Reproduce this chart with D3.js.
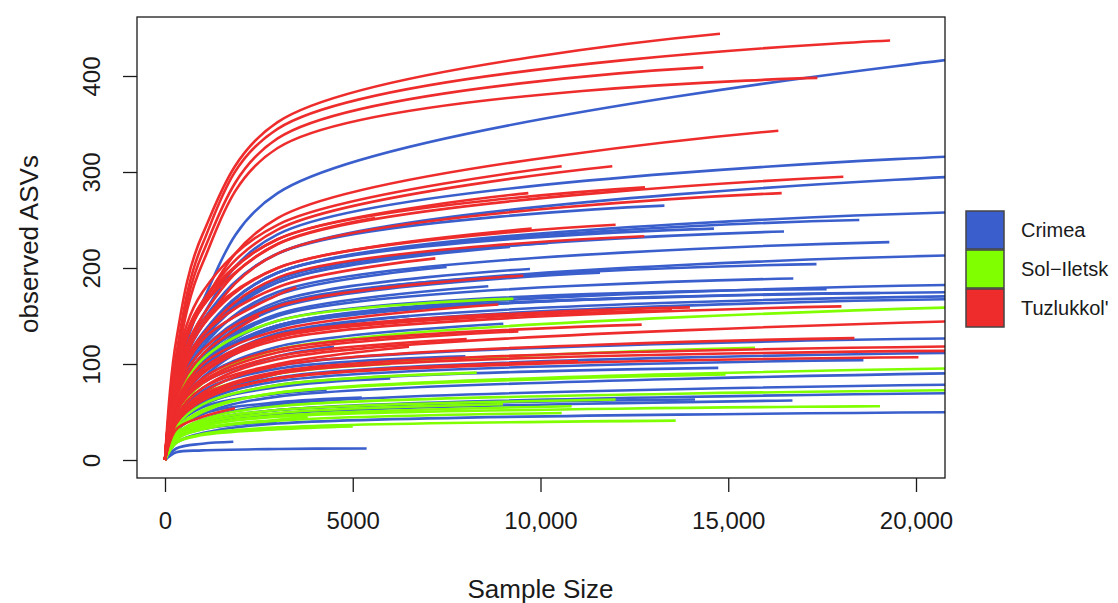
<!DOCTYPE html>
<html>
<head>
<meta charset="utf-8">
<script src="https://cdn.jsdelivr.net/npm/d3@7"></script>
<style>
  body { margin: 0; background: #fff; }
  text { font-family: 'Liberation Sans', Arial, sans-serif; fill: #1a1a1a; }
</style>
</head>
<body>
<svg id="chart" width="1118" height="603"></svg>
<script>
const sites = ['Crimea', 'Sol−Iletsk', "Tuzlukkol'"]
const siteColors = ['#3A5FCD', '#7FFF00', '#EE2C2C']
const xTicks = [0, 5000, 10000, 15000, 20000]
const xTickLabels = ['0', '5000', '10,000', '15,000', '20,000']
const yTicks = [0, 100, 200, 300, 400]

const sampleGrid = [300, 1000, 3000]

// [end sample size, end ASVs, ASVs at 300, 1000, 3000 reads]
const crimea = [
  [22000, 422, 80, 165, 278], [22000, 318, 78, 150, 235], [22000, 297, 75, 140, 215],
  [13300, 265, 80, 145, 215], [18490, 250, 72, 130, 195], [22000, 259, 70, 128, 195],
  [14620, 241, 74, 132, 195], [16485, 238, 70, 125, 188], [19290, 227, 66, 118, 175],
  [22000, 214, 60, 105, 160], [17350, 204, 62, 110, 162], [16733, 189, 58, 102, 150],
  [22000, 183, 55, 95, 140], [17620, 178, 58, 100, 145], [22000, 175, 56, 98, 140],
  [22000, 171, 52, 90, 132], [22000, 168, 50, 86, 128], [19040, 174, 56, 97, 140],
  [22000, 127, 42, 70, 98], [22000, 112, 38, 62, 86], [18600, 104, 36, 60, 82],
  [14735, 96, 35, 57, 78], [22000, 91, 30, 48, 66], [22000, 79, 26, 42, 58],
  [22000, 70, 24, 38, 52], [16710, 62, 22, 36, 48], [22000, 50, 18, 28, 38],
  [9190, 222, 75, 130, 185], [7500, 201, 70, 122, 172], [9720, 199, 66, 115, 165],
  [11585, 195, 62, 108, 158], [8610, 181, 62, 108, 152], [9010, 142, 50, 85, 118],
  [5370, 12, 8, 10, 11.5], [1820, 19, 12, 17], [4305, 73, 35, 55, 69],
  [2975, 40, 22, 32], [5240, 65, 30, 48, 60], [14115, 63, 25, 40, 52],
  [12000, 168, 56, 96, 138], [6500, 150, 55, 95, 130], [4500, 118, 48, 80, 108],
  [3200, 93, 40, 66, 90], [7000, 160, 55, 100, 140], [10200, 226, 70, 125, 185],
  [8000, 108, 42, 72, 95], [6000, 85, 35, 58, 76]
]

const solIletsk = [
  [22000, 160, 45, 80, 115], [15712, 117, 38, 65, 90], [14930, 89, 32, 52, 70],
  [22000, 96, 30, 50, 70], [22000, 73, 27, 42, 56], [19040, 56, 23, 35, 45],
  [10830, 56, 23, 36, 46], [10565, 49, 21, 32, 41], [13600, 41, 18, 27, 34],
  [9277, 168, 60, 105, 145], [8300, 91, 35, 58, 78], [12000, 63, 25, 40, 52],
  [9000, 58, 24, 38, 49], [5000, 35, 18, 26, 32], [3800, 45, 22, 33, 42],
  [6000, 100, 40, 68, 90]
]

const tuzlukkol = [
  [14780, 444, 125, 235, 352], [19310, 437, 110, 225, 345], [14335, 409, 105, 215, 335],
  [17373, 398, 100, 205, 325], [16334, 343, 90, 162, 252], [11912, 306, 95, 165, 240],
  [10564, 306, 100, 175, 245], [18065, 295, 85, 150, 225], [12783, 284, 90, 160, 230],
  [16423, 278, 80, 140, 215], [9676, 278, 95, 165, 230], [5593, 252, 95, 160, 225],
  [12000, 245, 80, 140, 200], [9765, 241, 85, 145, 200], [12765, 233, 75, 130, 190],
  [9543, 192, 70, 115, 160], [18015, 160, 55, 90, 125], [13980, 159, 60, 95, 130],
  [13500, 156, 58, 92, 128], [8877, 162, 60, 100, 135], [12695, 141, 52, 85, 115],
  [22500, 146, 45, 75, 105], [9410, 134, 50, 82, 112], [8035, 126, 50, 80, 108],
  [18360, 127, 42, 70, 98], [22500, 119, 40, 66, 92], [20065, 107, 38, 62, 85],
  [22500, 114, 40, 64, 90], [1864, 54, 32, 45], [6500, 118, 45, 75, 100],
  [11000, 103, 40, 63, 85], [4200, 98, 42, 68, 90], [7200, 210, 78, 130, 180],
  [3500, 180, 70, 125, 172], [2500, 150, 65, 110]
]

const curvesBySite = [crimea, solIletsk, tuzlukkol]

const box = { left: 137, right: 945, top: 17, bottom: 478 }

const x = d3.scaleLinear().domain([0, 20000]).range([165, 916])
const y = d3.scaleLinear().domain([0, 400]).range([460, 76])

const svg = d3.select('#chart')

svg.append('defs').append('clipPath')
  .attr('id', 'plot-clip')
  .append('rect')
  .attr('x', box.left)
  .attr('y', box.top)
  .attr('width', box.right - box.left)
  .attr('height', box.bottom - box.top)

function curvePoints (c) {
  const [n, s, ...mids] = c
  const pts = [[0, 0]]
  sampleGrid.forEach((g, i) => {
    if (g < n && mids[i] != null) pts.push([g, mids[i]])
  })
  pts.push([n, s])
  return pts
}

const line = d3.line()
  .x(d => x(d[0]))
  .y(d => y(d[1]))
  .curve(d3.curveCatmullRom.alpha(0.5))

const plot = svg.append('g').attr('clip-path', 'url(#plot-clip)')

curvesBySite.forEach((curves, i) => {
  plot.append('g')
    .selectAll('path')
    .data(curves)
    .enter()
    .append('path')
    .attr('d', d => line(curvePoints(d)))
    .attr('fill', 'none')
    .attr('stroke', siteColors[i])
    .attr('stroke-width', 2.6)
    .attr('stroke-linecap', 'butt')
})

svg.append('rect')
  .attr('x', box.left)
  .attr('y', box.top)
  .attr('width', box.right - box.left)
  .attr('height', box.bottom - box.top)
  .attr('fill', 'none')
  .attr('stroke', '#1a1a1a')
  .attr('stroke-width', 1.3)

// x axis
const xAxis = svg.append('g')
  .attr('transform', `translate(0, ${box.bottom})`)
  .call(d3.axisBottom(x)
    .tickValues(xTicks)
    .tickSize(14)
    .tickPadding(20)
    .tickFormat((d, i) => xTickLabels[i]))
xAxis.select('.domain').remove()
xAxis.selectAll('line').attr('stroke', '#1a1a1a').attr('stroke-width', 1.3)
xAxis.selectAll('text')
  .attr('font-size', 24)
  .attr('font-family', "'Liberation Sans', Arial, sans-serif")
  .attr('fill', '#1a1a1a')

// y axis
const yAxis = svg.append('g')
  .attr('transform', `translate(${box.left}, 0)`)
  .call(d3.axisLeft(y).tickValues(yTicks).tickSize(14))
yAxis.select('.domain').remove()
yAxis.selectAll('line').attr('stroke', '#1a1a1a').attr('stroke-width', 1.3)
yAxis.selectAll('text')
  .attr('transform', 'rotate(-90)')
  .attr('x', 0)
  .attr('y', -37)
  .attr('dy', 0)
  .attr('text-anchor', 'middle')
  .attr('font-size', 24)
  .attr('font-family', "'Liberation Sans', Arial, sans-serif")
  .attr('fill', '#1a1a1a')

svg.append('text')
  .attr('x', (x(0) + x(20000)) / 2)
  .attr('y', 598)
  .attr('text-anchor', 'middle')
  .attr('font-size', 26)
  .text('Sample Size')

svg.append('text')
  .attr('transform', 'translate(38, 244) rotate(-90)')
  .attr('text-anchor', 'middle')
  .attr('font-size', 26)
  .text('observed ASVs')

// legend
const legend = svg.append('g').attr('transform', 'translate(966, 211)')
sites.forEach((name, i) => {
  legend.append('rect')
    .attr('x', 0)
    .attr('y', i * 39)
    .attr('width', 38)
    .attr('height', 38)
    .attr('fill', siteColors[i])
    .attr('stroke', '#444')
    .attr('stroke-width', 1.5)
  legend.append('text')
    .attr('x', 55)
    .attr('y', i * 39 + 19)
    .attr('dy', '0.35em')
    .attr('font-size', 20)
    .text(name)
})
</script>
</body>
</html>
